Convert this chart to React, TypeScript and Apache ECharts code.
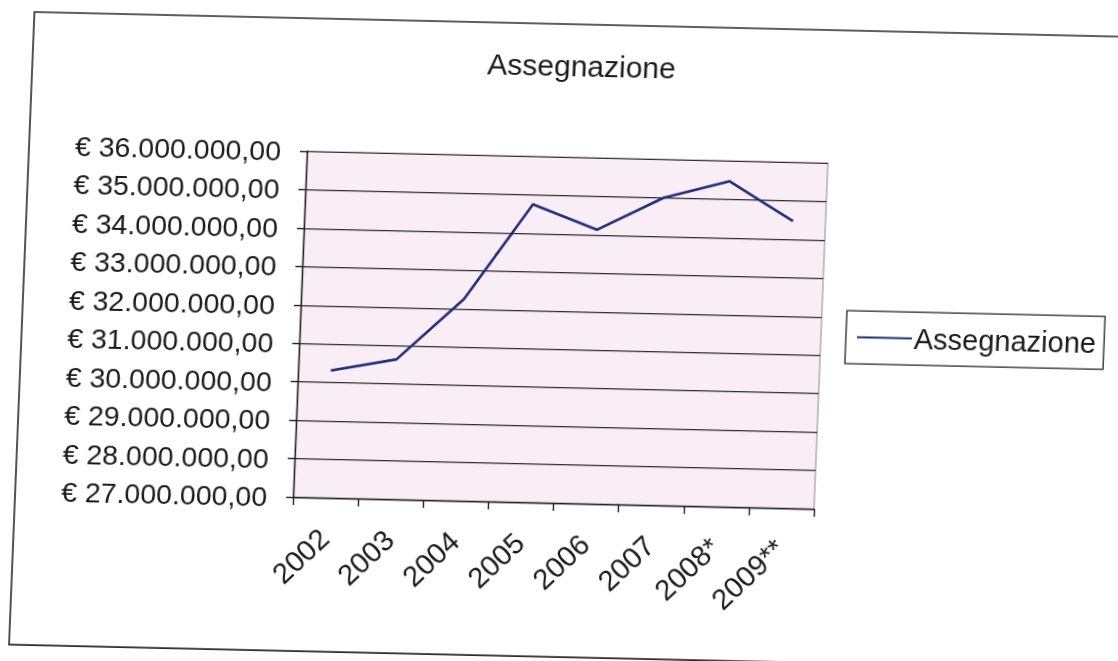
import React, { useEffect, useRef } from "react";
import * as echarts from "echarts";

const categories = ["2002", "2003", "2004", "2005", "2006", "2007", "2008*", "2009**"];
const values = [30310000, 30640000, 32250000, 34750000, 34130000, 35000000, 35470000, 34470000];
const seriesName = "Assegnazione";
const titleText = "Assegnazione";
const yMin = 27000000;
const yMax = 36000000;
const yStep = 1000000;

function fmt(v: number): string {
  const s = Math.round(v).toString().replace(/\B(?=(\d{3})+(?!\d))/g, ".");
  return "€ " + s + ",00";
}

export default function App() {
  const ref = useRef<HTMLDivElement>(null);
  useEffect(() => {
    if (!ref.current) return;
    const chart = echarts.init(ref.current, undefined, { renderer: "svg" });
    const font = "'Liberation Sans', Arial, sans-serif";
    const ink = "#1a1a1a";
    chart.setOption({
      animation: false,
      backgroundColor: "#ffffff",
      title: {
        text: titleText,
        left: 566,
        top: 45,
        textAlign: "center",
        textStyle: { fontFamily: font, fontSize: 30, fontWeight: "normal", color: ink },
      },
      graphic: [
        {
          type: "rect",
          shape: { x: 22, y: 24, width: 1130, height: 633 },
          style: { fill: "none", stroke: "#2a2a2a", lineWidth: 1.6 },
          z: -1,
        },
      ],
      legend: {
        show: true,
        data: [{ name: seriesName, icon: "rect" }],
        left: 846,
        top: 304,
        orient: "vertical",
        borderColor: "#222",
        borderWidth: 1.3,
        padding: [10, 8, 10, 11],
        itemWidth: 55,
        itemHeight: 2,
        itemGap: 0,
        textStyle: { fontFamily: font, fontSize: 29, lineHeight: 33, color: ink, padding: [0, 0, 0, -3] },
      },
      grid: {
        left: 300,
        right: 297,
        top: 157,
        bottom: 158,
        show: true,
        backgroundColor: "#f9eef6",
        borderColor: "#8a8a8a",
        borderWidth: 1,
      },
      xAxis: {
        type: "category",
        data: categories,
        boundaryGap: true,
        axisLine: { show: true, lineStyle: { color: "#222", width: 1.4 } },
        axisTick: { show: true, alignWithLabel: false, length: 8, lineStyle: { color: "#222", width: 1.4 } },
        axisLabel: {
          rotate: 45,
          interval: 0,
          margin: 36,
          fontFamily: font,
          fontSize: 29,
          color: ink,
        },
        splitLine: { show: false },
      },
      yAxis: {
        type: "value",
        min: yMin,
        max: yMax,
        interval: yStep,
        axisLine: { show: true, lineStyle: { color: "#222", width: 1.4 } },
        axisTick: { show: true, length: 7, lineStyle: { color: "#222", width: 1.4 } },
        axisLabel: {
          formatter: (v: number) => fmt(v),
          margin: 26,
          fontFamily: font,
          fontSize: 28.5,
          color: ink,
        },
        splitLine: { show: true, lineStyle: { color: "#2e2e2e", width: 1.2 } },
      },
      series: [
        {
          name: seriesName,
          type: "line",
          data: values,
          symbol: "none",
          lineStyle: { color: "#1f2d7a", width: 2.6 },
          itemStyle: { color: "#1f2d7a" },
        },
      ],
    });
    return () => chart.dispose();
  }, []);
  return (
    <div
      ref={ref}
      style={{
        position: "fixed",
        left: 0,
        top: 0,
        width: 1118,
        height: 661,
        transform: "rotate(1.3deg) skewX(-1deg)",
      }}
    />
  );
}
